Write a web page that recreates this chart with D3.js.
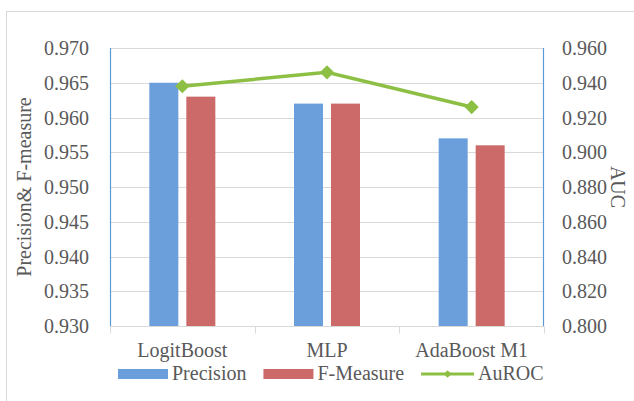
<!DOCTYPE html>
<html>
<head>
<meta charset="UTF-8">
<title>Precision, F-Measure and AuROC</title>
<style>
  body { margin: 0; background: #fff; }
  svg text { fill: #595959; }
</style>
</head>
<body>
<svg width="634" height="401" font-family="'Liberation Serif', 'Times New Roman', serif"></svg>
<script src="https://cdn.jsdelivr.net/npm/d3@7"></script>
<script>
// data
var categories = ["LogitBoost", "MLP", "AdaBoost M1"];
var precision = [0.965, 0.962, 0.957];
var fMeasure  = [0.963, 0.962, 0.956];
var auroc     = [0.938, 0.946, 0.926];
var leftTicks  = [0.930, 0.935, 0.940, 0.945, 0.950, 0.955, 0.960, 0.965, 0.970];
var rightTicks = [0.800, 0.820, 0.840, 0.860, 0.880, 0.900, 0.920, 0.940, 0.960];
var barSeries = ["Precision", "F-Measure"];

var blue = "#6b9fdc", red = "#cc6a6a", green = "#8dbf45";

var svg = d3.select("svg");

// outer chart border (right/bottom edges fall outside the picture)
svg.append("rect")
  .attr("x", 6.5).attr("y", 11.5)
  .attr("width", 700).attr("height", 500)
  .attr("fill", "none").attr("stroke", "#d9d9d9");

var plotL = 110, plotR = 544, plotT = 48, plotB = 326;

var x = d3.scaleBand().domain(categories).range([plotL, plotR]).padding(0);
var xs = d3.scaleBand().domain(barSeries).range([-33, 33]).paddingInner(0.216);
var yL = d3.scaleLinear().domain([0.930, 0.970]).range([plotB, plotT]);
var yR = d3.scaleLinear().domain([0.800, 0.960]).range([plotB, plotT]);

// gridlines
svg.append("g").selectAll("line")
  .data(leftTicks.slice(1))
  .enter().append("line")
  .attr("x1", plotL).attr("x2", plotR)
  .attr("y1", function(d) { return Math.round(yL(d)) + 0.5; })
  .attr("y2", function(d) { return Math.round(yL(d)) + 0.5; })
  .attr("stroke", "#d9d9d9");

// left tick labels
svg.append("g").selectAll("text")
  .data(leftTicks)
  .enter().append("text")
  .attr("x", 89)
  .attr("y", function(d) { return yL(d); })
  .attr("dy", "0.35em")
  .attr("text-anchor", "end")
  .style("font-size", "20px")
  .text(function(d) { return d3.format(".3f")(d); });

// right tick labels
svg.append("g").selectAll("text")
  .data(rightTicks)
  .enter().append("text")
  .attr("x", 562)
  .attr("y", function(d) { return yR(d); })
  .attr("dy", "0.35em")
  .attr("text-anchor", "start")
  .style("font-size", "20px")
  .text(function(d) { return d3.format(".3f")(d); });

// bars
var rows = categories.map(function(c, i) {
  return { cat: c, values: [ { s: "Precision", v: precision[i] }, { s: "F-Measure", v: fMeasure[i] } ] };
});

svg.append("g").selectAll("g")
  .data(rows)
  .enter().append("g")
  .attr("transform", function(d) { return "translate(" + (x(d.cat) + x.bandwidth() / 2) + ",0)"; })
  .selectAll("rect")
  .data(function(d) { return d.values; })
  .enter().append("rect")
  .attr("x", function(d) { return xs(d.s); })
  .attr("width", xs.bandwidth())
  .attr("y", function(d) { return yL(d.v); })
  .attr("height", function(d) { return plotB - yL(d.v); })
  .attr("fill", function(d) { return d.s === "Precision" ? blue : red; });

// axes lines
svg.append("line")
  .attr("x1", plotL + 0.5).attr("x2", plotL + 0.5)
  .attr("y1", plotT).attr("y2", plotB)
  .attr("stroke", "#5b9bd5").attr("stroke-width", 1.2);
svg.append("line")
  .attr("x1", plotR - 0.5).attr("x2", plotR - 0.5)
  .attr("y1", plotT).attr("y2", plotB)
  .attr("stroke", "#5b9bd5").attr("stroke-width", 1.2);

var xAxis = svg.append("g")
  .attr("transform", "translate(0," + (plotB + 0.5) + ")");
xAxis.append("line")
  .attr("x1", plotL).attr("x2", plotR)
  .attr("stroke", "#d9d9d9");
xAxis.selectAll(".tick")
  .data(categories.concat([null]))
  .enter().append("line")
  .attr("class", "tick")
  .attr("x1", function(d, i) { return Math.round(plotL + i * x.step()) + 0.5; })
  .attr("x2", function(d, i) { return Math.round(plotL + i * x.step()) + 0.5; })
  .attr("y1", 0).attr("y2", 7)
  .attr("stroke", "#d9d9d9");

// category labels
svg.append("g").selectAll("text")
  .data(categories)
  .enter().append("text")
  .attr("x", function(d) { return x(d) + x.bandwidth() / 2; })
  .attr("y", 357)
  .attr("text-anchor", "middle")
  .style("font-size", "20px")
  .text(function(d) { return d; });

// AuROC line on right axis
var line = d3.line()
  .x(function(d, i) { return x(categories[i]) + x.bandwidth() / 2; })
  .y(function(d) { return yR(d); });

svg.append("path")
  .datum(auroc)
  .attr("d", line)
  .attr("fill", "none")
  .attr("stroke", green)
  .attr("stroke-width", 3.5);

svg.append("g").selectAll("path")
  .data(auroc)
  .enter().append("path")
  .attr("d", d3.symbol().type(d3.symbolSquare).size(100))
  .attr("transform", function(d, i) {
    return "translate(" + (x(categories[i]) + x.bandwidth() / 2) + "," + yR(d) + ") rotate(45)";
  })
  .attr("fill", green);

// axis titles
svg.append("text")
  .attr("transform", "translate(31,187) rotate(-90)")
  .attr("text-anchor", "middle")
  .style("font-size", "20px")
  .text("Precision& F-measure");

svg.append("text")
  .attr("transform", "translate(611,187) rotate(90)")
  .attr("text-anchor", "middle")
  .style("font-size", "20px")
  .text("AUC");

// legend
var legend = svg.append("g");
var lx = 118, ly = 374;
var items = [
  { name: "Precision", type: "bar", color: blue },
  { name: "F-Measure", type: "bar", color: red },
  { name: "AuROC", type: "line", color: green }
];
items.forEach(function(it) {
  if (it.type === "bar") {
    legend.append("rect")
      .attr("x", lx).attr("y", ly - 5)
      .attr("width", 50).attr("height", 10)
      .attr("fill", it.color);
  } else {
    legend.append("line")
      .attr("x1", lx).attr("x2", lx + 53)
      .attr("y1", ly).attr("y2", ly)
      .attr("stroke", it.color).attr("stroke-width", 3);
    legend.append("path")
      .attr("d", d3.symbol().type(d3.symbolSquare).size(30))
      .attr("transform", "translate(" + (lx + 26.5) + "," + ly + ") rotate(45)")
      .attr("fill", it.color);
  }
  var w = it.type === "bar" ? 50 : 53;
  var t = legend.append("text")
    .attr("x", lx + w + 4)
    .attr("y", ly + 6)
    .style("font-size", "20px")
    .text(it.name);
  lx += w + 4 + t.node().getComputedTextLength() + 17;
});
</script>
</body>
</html>
